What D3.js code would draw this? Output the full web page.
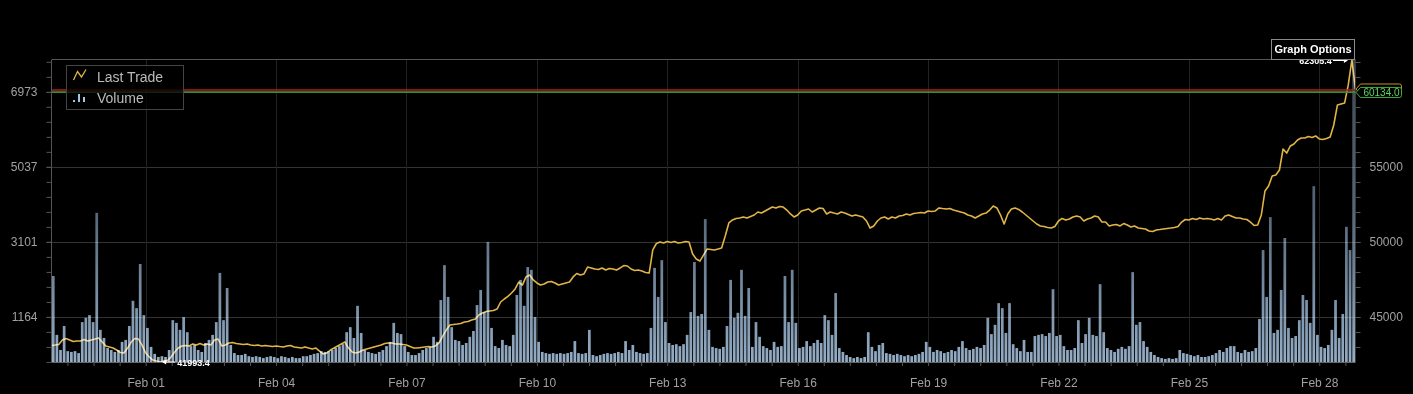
<!DOCTYPE html>
<html>
<head>
<meta charset="utf-8">
<script src="https://cdn.jsdelivr.net/npm/d3@7"></script>
<style>
    html, body { margin: 0; padding: 0; background: #000; overflow: hidden; }
    svg { display: block; font-family: "Liberation Sans", Arial, sans-serif; }
</style>
</head>
<body>
<div id="chart"></div>
<script>
// Series start and sampling step (2 hour samples)
const startTime = Date.UTC(2024, 0, 29, 20);
const stepHours = 2;

// Last trade, one value every 2 hours (one row = one day)
const lastTrade = [
    43100, 43130, 43170, 43470, 43570, 43470, 43370, 43400, 43400, 43500, 43400, 43470,
    43530, 43600, 43330, 43070, 43000, 42930, 42800, 42630, 42600, 42930, 43330, 43570,
    43530, 43130, 42600, 42330, 42130, 42070, 41993.4, 42070, 42100, 42330, 42670, 42930,
    43070, 43100, 43070, 43200, 43130, 43230, 43130, 43200, 43130, 43470, 43530, 43070,
    43130, 43270, 43300, 43230, 43200, 43170, 43200, 43130, 43100, 43130, 43070, 43100,
    43070, 43030, 43070, 43030, 43000, 43070, 43100, 43000, 42970, 42930, 43000, 42930,
    42870, 42930, 42730, 42530, 42600, 42800, 42930, 43070, 43200, 43330, 42930, 42670,
    42600, 42670, 42800, 42870, 42930, 43000, 43070, 43130, 43230, 43270, 43270, 43200,
    43200, 43170, 43130, 43030, 42930, 42930, 42970, 43000, 43030, 43000, 43070, 43270,
    43730, 44130, 44470, 44500, 44530, 44570, 44670, 44700, 44800, 44870, 45130, 45270,
    45370, 45400, 45430, 45530, 46000, 46200, 46370, 46600, 46870, 47330, 47130, 47670,
    47800, 47470, 47270, 47130, 47200, 47330, 47370, 47270, 47130, 47200, 47270, 47330,
    47670, 47900, 47800, 47870, 48330, 48270, 48200, 48170, 48270, 48130, 48230, 48200,
    48130, 48270, 48430, 48400, 48200, 48100, 48130, 48070, 47970, 47930, 49470, 49900,
    50000, 49930, 50030, 49970, 50030, 49930, 49970, 50030, 50000, 49200, 48870, 48730,
    49130, 49530, 49500, 49470, 49530, 49600, 50400, 51270, 51470, 51570, 51600, 51670,
    51600, 51700, 51800, 52000, 51930, 52070, 52200, 52330, 52270, 52370, 52330, 52130,
    51870, 51670, 51800, 52070, 52130, 52200, 52000, 52130, 52270, 52230, 51870, 52000,
    51930, 51870, 52000, 51930, 51830, 51730, 51800, 51730, 51670, 51400, 50930, 51070,
    51400, 51600, 51670, 51530, 51670, 51600, 51730, 51770, 51870, 51800, 51900, 51930,
    51970, 51930, 52070, 52030, 52070, 52270, 52230, 52200, 52230, 52130, 52070, 52000,
    51930, 51800, 51730, 51600, 51730, 51870, 51930, 52130, 52400, 52270, 51800, 51200,
    51870, 52200, 52270, 52170, 52000, 51800, 51600, 51400, 51200, 51070, 51030, 50970,
    50930, 51030, 51400, 51570, 51470, 51530, 51670, 51730, 51670, 51400, 51530, 51600,
    51730, 51670, 51330, 51330, 51070, 51130, 51170, 51070, 51230, 51130, 51000, 51070,
    50930, 50900, 50870, 50730, 50700, 50800, 50830, 50870, 50900, 50930, 50970, 51030,
    51330, 51500, 51470, 51570, 51500, 51600, 51530, 51570, 51530, 51470, 51570, 51470,
    51730, 51800, 51700, 51600, 51600, 51530, 51500, 51330, 51100, 51130, 51800, 53400,
    53730, 54400, 54470, 54800, 56200, 55930, 56400, 56530, 56800, 56930, 56930, 57030,
    56970, 57070, 56870, 56830, 56900, 57000, 57800, 59130, 59200, 59270, 60470, 62305.4,
    60134.0
];

// Volume per 2 hour bar
const volume = [
    2220, 700, 310, 930, 280, 260, 280, 230, 1030, 1140, 1210, 1030,
    3850, 830, 620, 360, 310, 260, 310, 520, 570, 930, 1580, 1390,
    2530, 1210, 880, 390, 210, 130, 150, 130, 310, 1080, 1010, 830,
    1160, 770, 410, 440, 310, 260, 490, 570, 700, 1030, 2300, 1080,
    1910, 440, 230, 180, 180, 210, 150, 130, 150, 130, 100, 130,
    150, 130, 100, 150, 130, 100, 130, 100, 100, 150, 150, 180,
    210, 230, 280, 260, 280, 310, 360, 410, 460, 770, 900, 620,
    1450, 750, 310, 260, 230, 210, 260, 310, 410, 520, 1010, 750,
    720, 410, 260, 180, 180, 230, 310, 360, 390, 650, 520, 1600,
    2500, 1680, 900, 570, 540, 440, 490, 650, 800, 1470, 1860, 1290,
    3100, 880, 410, 360, 570, 440, 410, 700, 1730, 2120, 1450, 2450,
    2380, 1160, 520, 260, 230, 210, 230, 210, 230, 210, 230, 260,
    540, 230, 210, 230, 830, 180, 150, 180, 210, 230, 210, 230,
    260, 230, 540, 310, 440, 260, 230, 210, 230, 880, 2430, 1680,
    2630, 1030, 490, 440, 460, 410, 460, 700, 1290, 2580, 1190, 1240,
    3690, 830, 390, 360, 340, 390, 930, 2120, 1140, 1270, 2380, 1190,
    1910, 390, 1030, 650, 410, 360, 310, 520, 390, 410, 2220, 1030,
    2380, 1010, 360, 390, 540, 410, 490, 570, 490, 1210, 1080, 700,
    1780, 360, 260, 180, 130, 100, 130, 100, 130, 770, 390, 280,
    440, 490, 230, 210, 180, 210, 180, 150, 180, 150, 180, 210,
    260, 520, 390, 260, 310, 280, 230, 260, 310, 280, 390, 540,
    360, 310, 340, 390, 360, 440, 1140, 720, 960, 1520, 1390, 750,
    1520, 460, 360, 280, 570, 260, 260, 670, 700, 720, 670, 750,
    1880, 670, 700, 410, 310, 310, 360, 1080, 490, 720, 1140, 700,
    670, 2010, 770, 360, 310, 260, 340, 390, 340, 410, 2320, 960,
    1030, 540, 390, 260, 180, 130, 100, 80, 100, 80, 100, 310,
    230, 210, 180, 150, 180, 130, 130, 150, 180, 230, 310, 260,
    360, 410, 410, 260, 230, 310, 260, 280, 360, 1110, 2890, 1680,
    3740, 750, 830, 1860, 3200, 880, 620, 670, 1080, 1730, 1600, 1010,
    4540, 700, 390, 360, 440, 830, 1600, 620, 1240, 3490, 2890, 8400
];

const volumeTicks = [1164, 3101, 5037, 6973];
const priceTicks = [45000, 50000, 55000];
const dateTicks = ["2024-02-01", "2024-02-04", "2024-02-07", "2024-02-10", "2024-02-13",
                   "2024-02-16", "2024-02-19", "2024-02-22", "2024-02-25", "2024-02-28"];
const lastPrice = 60134.0;
const bidPrice = 59990;

const width = 1413, height = 394;
const plotLeft = 51.5, plotRight = 1355.5, plotTop = 60, plotBottom = 362;
const hour = 3600 * 1000;
const timeAt = i => new Date(startTime + i * stepHours * hour);

const svg = d3.select('#chart').append('svg')
    .attr('width', width)
    .attr('height', height);

// Scales
const x = d3.scaleUtc()
    .domain([timeAt(0), timeAt(volume.length)])
    .range([plotLeft, plotRight]);
const yPrice = d3.scaleLinear().domain([42000, 62133]).range([plotBottom, plotTop]).clamp(true);
const yVol = d3.scaleLinear().domain([0, 7797]).range([plotBottom, plotTop]);

const defs = svg.append('defs');
defs.append('clipPath').attr('id', 'plot')
    .append('rect')
    .attr('x', plotLeft).attr('y', plotTop)
    .attr('width', plotRight - plotLeft).attr('height', plotBottom - plotTop);

const grad = defs.append('linearGradient')
    .attr('id', 'volGrad')
    .attr('gradientUnits', 'userSpaceOnUse')
    .attr('x1', 0).attr('y1', plotBottom).attr('x2', 0).attr('y2', plotTop);
grad.append('stop').attr('offset', 0).attr('stop-color', '#94adc5');
grad.append('stop').attr('offset', 0.2).attr('stop-color', '#7a91a7');
grad.append('stop').attr('offset', 0.5).attr('stop-color', '#56667a');
grad.append('stop').attr('offset', 1).attr('stop-color', '#3c4752');

// Grid
svg.append('g')
    .selectAll('line')
    .data(volumeTicks)
    .join('line')
    .attr('x1', plotLeft).attr('x2', plotRight)
    .attr('y1', d => Math.round(yVol(d)) + 0.5)
    .attr('y2', d => Math.round(yVol(d)) + 0.5)
    .style('stroke', '#333');

svg.append('g')
    .selectAll('line')
    .data(dateTicks)
    .join('line')
    .attr('x1', d => Math.round(x(new Date(d))) + 0.5)
    .attr('x2', d => Math.round(x(new Date(d))) + 0.5)
    .attr('y1', plotTop).attr('y2', plotBottom)
    .style('stroke', '#222');

// Last trade line
const line = d3.line()
    .x((d, i) => x(timeAt(i)))
    .y(d => yPrice(d));

svg.append('path')
    .datum(lastTrade)
    .attr('clip-path', 'url(#plot)')
    .attr('d', line)
    .style('fill', 'none')
    .style('stroke', '#e0b546')
    .style('stroke-width', 1.6)
    .style('stroke-linejoin', 'round');

// Volume bars
svg.append('g')
    .attr('clip-path', 'url(#plot)')
    .style('mix-blend-mode', 'screen')
    .selectAll('rect')
    .data(volume)
    .join('rect')
    .attr('x', (d, i) => x(timeAt(i)) + 0.4)
    .attr('width', (d, i) => x(timeAt(i + 1)) - x(timeAt(i)) - 0.9)
    .attr('y', d => yVol(d))
    .attr('height', d => plotBottom - yVol(d))
    .style('fill', 'url(#volGrad)');

// Ask / bid lines
svg.append('line')
    .attr('x1', plotLeft).attr('x2', plotRight)
    .attr('y1', yPrice(lastPrice)).attr('y2', yPrice(lastPrice))
    .style('stroke', '#b01c1c').style('stroke-width', 1.6);
svg.append('line')
    .attr('x1', plotLeft).attr('x2', plotRight)
    .attr('y1', yPrice(bidPrice)).attr('y2', yPrice(bidPrice))
    .style('stroke', '#3c8c3c').style('stroke-width', 1.6);

// Frame
const frame = svg.append('g').style('stroke', '#555').style('fill', 'none');
frame.append('line').attr('x1', plotLeft).attr('x2', plotRight).attr('y1', plotTop - 0.5).attr('y2', plotTop - 0.5);
frame.append('line').attr('x1', plotLeft).attr('x2', plotLeft).attr('y1', plotTop).attr('y2', plotBottom);
frame.append('line').attr('x1', plotRight).attr('x2', plotRight).attr('y1', plotTop).attr('y2', plotBottom).style('stroke', '#3a3a3a');
frame.append('line').attr('x1', plotLeft).attr('x2', plotRight).attr('y1', plotBottom + 0.5).attr('y2', plotBottom + 0.5).style('stroke', '#666');

// Axes
function styleAxis(g) {
    g.select('.domain').remove();
    g.selectAll('.tick line').style('stroke', '#555');
    g.selectAll('.tick text')
        .style('fill', '#a0a0a0')
        .style('font-size', '12px')
        .style('font-family', '"Liberation Sans", Arial, sans-serif');
}

const volStep = (volumeTicks[1] - volumeTicks[0]) / 5;
const volMinor = d3.range(-3, 40).map(k => volumeTicks[0] + k * volStep)
    .filter(v => v >= 0 && v <= 7797);
svg.append('g')
    .attr('transform', `translate(${plotLeft},0)`)
    .call(d3.axisLeft(yVol).tickValues(volMinor).tickSize(5).tickFormat(''))
    .call(styleAxis);
svg.append('g')
    .attr('transform', `translate(${plotLeft},0)`)
    .call(d3.axisLeft(yVol).tickValues(volumeTicks).tickSize(5).tickPadding(9).tickFormat(d3.format('d')))
    .call(styleAxis);

const priceMinor = d3.range(43000, 62001, 1000);
svg.append('g')
    .attr('transform', `translate(${plotRight},0)`)
    .call(d3.axisRight(yPrice).tickValues(priceMinor).tickSize(5).tickFormat(''))
    .call(styleAxis);
svg.append('g')
    .attr('transform', `translate(${plotRight},0)`)
    .call(d3.axisRight(yPrice).tickValues(priceTicks).tickSize(5).tickPadding(9).tickFormat(d3.format('d')))
    .call(styleAxis);

const feb01 = new Date(dateTicks[0]).getTime();
const timeMinor = d3.range(-4, 50).map(k => new Date(feb01 + k * 0.6 * 24 * hour))
    .filter(d => d >= x.domain()[0] && d <= x.domain()[1]);
svg.append('g')
    .attr('transform', `translate(0,${plotBottom})`)
    .call(d3.axisBottom(x).tickValues(timeMinor).tickSize(4).tickFormat(''))
    .call(styleAxis);
svg.append('g')
    .attr('transform', `translate(0,${plotBottom})`)
    .call(d3.axisBottom(x).tickValues(dateTicks.map(d => new Date(d))).tickSize(0).tickPadding(16)
        .tickFormat(d3.utcFormat('%b %d')))
    .call(styleAxis);

// Min / max markers
const iMax = d3.maxIndex(lastTrade);
const iMin = d3.minIndex(lastTrade);
const xMax = x(timeAt(iMax)), yMax = yPrice(lastTrade[iMax]) + 0.5;
const xMin = x(timeAt(iMin)), yMin = yPrice(lastTrade[iMin]);

const marks = svg.append('g').style('fill', '#fff').style('stroke', '#fff');
marks.append('line')
    .attr('x1', xMax - 19).attr('x2', xMax - 5).attr('y1', yMax).attr('y2', yMax)
    .style('stroke-width', 1);
marks.append('path')
    .attr('d', `M${xMax - 4},${yMax} l-4,-2.5 l0,5 z`).style('stroke', 'none');
marks.append('text')
    .attr('x', xMax - 20).attr('y', yMax + 3.5)
    .attr('text-anchor', 'end')
    .style('stroke', 'none')
    .style('font-size', '9px').style('font-weight', 'bold')
    .text(d3.format('.1f')(lastTrade[iMax]));

marks.append('line')
    .attr('x1', xMin + 5).attr('x2', xMin + 15).attr('y1', yMin).attr('y2', yMin)
    .style('stroke-width', 1);
marks.append('path')
    .attr('d', `M${xMin + 2},${yMin} l4,-2.5 l0,5 z`).style('stroke', 'none');
marks.append('text')
    .attr('x', xMin + 17).attr('y', yMin + 3.5)
    .style('stroke', 'none')
    .style('font-size', '9px').style('font-weight', 'bold')
    .text(d3.format('.1f')(lastTrade[iMin]));

// Price tag on the right
function tag(yc) {
    const r = plotRight;
    return `M${r + 0.5},${yc} L${r + 5},${yc - 5} L${r + 44},${yc - 5} ` +
           `Q${r + 46},${yc - 5} ${r + 46},${yc - 3} L${r + 46},${yc + 3} ` +
           `Q${r + 46},${yc + 5} ${r + 44},${yc + 5} L${r + 5},${yc + 5} Z`;
}
svg.append('path')
    .attr('d', tag(yPrice(lastPrice) - 1))
    .style('fill', '#000').style('stroke', '#c8921e');
const yTag = yPrice(bidPrice) + 0.3;
svg.append('path')
    .attr('d', tag(yTag))
    .style('fill', '#000').style('stroke', '#3fae3f');
svg.append('text')
    .attr('x', plotRight + 26).attr('y', yTag + 3.6)
    .attr('text-anchor', 'middle')
    .style('fill', '#5fd35f')
    .style('font-size', '10px')
    .text(d3.format('.1f')(lastPrice));

// Graph options button
svg.append('rect')
    .attr('x', 1271.5).attr('y', 39.5)
    .attr('width', 83).attr('height', 20)
    .style('fill', '#000').style('stroke', '#8a8a8a');
svg.append('text')
    .attr('x', 1313).attr('y', 52.5)
    .attr('text-anchor', 'middle')
    .style('fill', '#fff')
    .style('font-size', '11px').style('font-weight', 'bold')
    .text('Graph Options');

// Legend
const legend = svg.append('g');
legend.append('rect')
    .attr('x', 66.5).attr('y', 65.5)
    .attr('width', 117).attr('height', 44)
    .style('fill', 'rgba(0,0,0,0.75)').style('stroke', '#444');
legend.append('path')
    .attr('d', 'M73.5,80 L77.5,71.5 L81.5,77 L86,69.5')
    .style('fill', 'none').style('stroke', '#e0b546').style('stroke-width', 1.3);
legend.append('text')
    .attr('x', 97).attr('y', 82)
    .style('fill', '#bbb').style('font-size', '14px')
    .text('Last Trade');
legend.selectAll('rect.icon')
    .data([[73, 100, 2], [78, 94, 8], [83, 97, 5]])
    .join('rect')
    .attr('class', 'icon')
    .attr('x', d => d[0]).attr('y', d => d[1])
    .attr('width', 2).attr('height', d => d[2])
    .style('fill', '#9fc6ea');
legend.append('text')
    .attr('x', 97).attr('y', 103)
    .style('fill', '#bbb').style('font-size', '14px')
    .text('Volume');
</script>
</body>
</html>
